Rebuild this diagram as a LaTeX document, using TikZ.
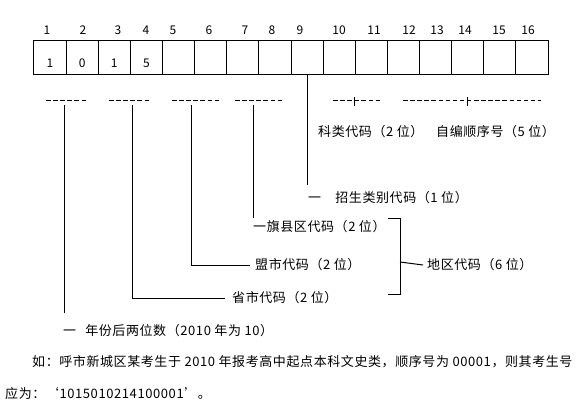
\documentclass[tikz,border=0pt]{standalone}
\usepackage{fontspec}
\setmainfont[LetterSpace=4.5]{Noto Sans CJK SC}
\newfontfamily\numfont{Noto Sans CJK SC}
\usepackage{tikz}
\usetikzlibrary{positioning, calc}
\tikzset{
  %% ---- boxes ----
  cell/.style     = {rectangle, draw, line width=1pt, outer sep=0pt,
                     inner sep=0pt, minimum width=32.125pt,
                     minimum height=34pt},
  digit/.style    = {inner sep=0pt, font=\numfont\fontsize{12}{14}\selectfont},
  numlabel/.style = {inner sep=0pt, font=\numfont\fontsize{12}{14}\selectfont},
  codelabel/.style= {anchor=west, inner sep=0pt,
                     font=\fontsize{13}{15}\selectfont},
  %% ---- lines ----
  dashline/.style = {line width=0.9pt, dash pattern=on 4.5pt off 2.6pt},
  leader/.style   = {line width=1pt},
}

\begin{document}
\begin{tikzpicture}[x=1pt, y=-1pt]
  \useasboundingbox (0,0) rectangle (584,409);

  %% Number row (16 cells)
  \node[cell] (c1) at (50.06,58) {};
  \foreach \i [remember=\i as \prev (initially 1)] in {2,...,16}
    \node[cell, right=0 of c\prev] (c\i) {};

  \foreach \n/\x in {1/47, 2/83, 3/118, 4/146, 5/173, 6/209, 7/245, 8/272,
                     9/300, 10/339, 11/374, 12/409, 13/437, 14/465,
                     15/499, 16/528}
    \node[numlabel] (n\n) at (\x,30) {\n};

  \node[digit] (d1) at ([yshift=-5pt]c1.center) {1};
  \node[digit] (d2) at ([yshift=-5pt]c2.center) {0};
  \node[digit] (d3) at ([yshift=-5pt]c3.center) {1};
  \node[digit] (d4) at ([yshift=-5pt]c4.center) {5};

  %% Dashed groups under the cells
  \coordinate (g1a) at (46,100);  \coordinate (g1b) at (86,100);
  \coordinate (g2a) at (109,100); \coordinate (g2b) at (149,100);
  \coordinate (g3a) at (172,100); \coordinate (g3b) at (219,100);
  \coordinate (g4a) at (235,100); \coordinate (g4b) at (283,100);
  \coordinate (g5a) at (333,100); \coordinate (g5b) at (380,100);
  \coordinate (g6a) at (403,100); \coordinate (g6b) at (541,100);
  \foreach \g in {1,...,6}
    \draw[dashline] (g\g a) -- (g\g b);
  \draw[leader] (354,97) -- (354,106);
  \draw[leader] (467,97) -- (467,106);

  %% Labels
  \node[codelabel] (lab10) at (318,132) {科类代码（2 位）};
  \node[codelabel] (lab11) at (436,132) {自编顺序号（5 位）};
  \node[codelabel] (lab9)  at (308,198) {一　招生类别代码（1 位）};
  \node[codelabel] (lab4)  at (253,227) {一旗县区代码（2 位）};
  \node[codelabel] (lab3)  at (255,265) {盟市代码（2 位）};
  \node[codelabel] (lab6)  at (427,265) {地区代码（6 位）};
  \node[codelabel] (lab2)  at (232,298) {省市代码（2 位）};
  \node[codelabel] (lab1)  at (63,331)
    {一\hspace{0.7em}年份后两位数（2010 年为 10）};

  %% Leaders
  \coordinate (t1) at (64,105);
  \coordinate (t2) at (132,105);
  \coordinate (t3) at (191,105);
  \coordinate (t4) at (253,105);
  \draw[leader] (t1) -- (64,313);
  \draw[leader] (t2) |- ([xshift=-7pt]lab2.west);
  \draw[leader] (t3) |- ([xshift=-5pt]lab3.west);
  \draw[leader] (t4) -- (253,218);
  \draw[leader] (c9.south) -- (c9.south |- 0,185);

  %% Region bracket
  \coordinate (bt) at (388,218); \coordinate (btr) at (400,218);
  \coordinate (bbr) at (400,294); \coordinate (bb) at (388,294);
  \coordinate (bm) at (400,262);
  \draw[leader] (bt) -- (btr) -- (bbr) -- (bb);
  \draw[leader] (bm) -- ([xshift=-4pt]lab6.west);

  %% Example text
  \node[codelabel] (ex1) at (32,362)
    {如：呼市新城区某考生于 2010 年报考高中起点本科文史类，顺序号为 00001，则其考生号};
  \node[codelabel] (ex2) at (5,394) {应为：‘1015010214100001’。};

\end{tikzpicture}
\end{document}
